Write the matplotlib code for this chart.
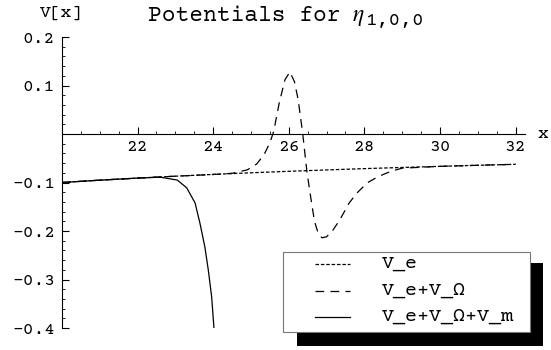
import numpy as np
import matplotlib
matplotlib.use('Agg')
import matplotlib.pyplot as plt
from matplotlib.patches import Rectangle
from matplotlib.lines import Line2D

plt.rcParams['font.family'] = ['Courier Prime', 'Liberation Mono', 'DejaVu Sans']
plt.rcParams['mathtext.fontset'] = 'stix'
plt.rcParams['axes.unicode_minus'] = False

# V_e (dotted)
x_e = [20, 21, 22, 23, 24, 25, 26, 27, 28, 29, 30, 31, 32]
y_e = [-0.1, -0.0952, -0.0909, -0.087, -0.0833, -0.08, -0.0769, -0.0741,
       -0.0714, -0.069, -0.0667, -0.0645, -0.0625]

# V_e + V_Omega (dashed)
x_eo = [20, 21, 22, 23, 24, 24.5, 24.9, 25.15, 25.35, 25.5, 25.6, 25.75, 25.9,
        26.03, 26.15, 26.25, 26.37, 26.48, 26.58, 26.68, 26.78, 26.88, 27.0,
        27.17, 27.35, 27.6, 27.8, 28.07, 28.36, 28.7, 29, 30, 31, 32]
y_eo = [-0.1, -0.0952, -0.0909, -0.087, -0.0835, -0.081, -0.074, -0.062,
        -0.042, -0.018, 0.005, 0.065, 0.112, 0.128, 0.108, 0.07, 0.0, -0.078,
        -0.13, -0.18, -0.205, -0.214, -0.212, -0.198, -0.177, -0.142, -0.122,
        -0.101, -0.088, -0.077, -0.0705, -0.0667, -0.0645, -0.0625]

# V_e + V_Omega + V_m (solid)
x_eom = [20, 21, 22, 22.6, 23.05, 23.3, 23.52, 23.65, 23.78, 23.87, 23.96, 24.02]
y_eom = [-0.1, -0.0952, -0.0909, -0.089, -0.095, -0.111, -0.142, -0.184,
         -0.233, -0.28, -0.336, -0.4]

labels = ['V_e', 'V_e+V_\u03a9', 'V_e+V_\u03a9+V_m']
xticks = [22, 24, 26, 28, 30, 32]
yticks = [-0.4, -0.3, -0.2, -0.1, 0.1, 0.2]

W, H = 551, 350
fig = plt.figure(figsize=(W / 100, H / 100), dpi=100)


def fx(px):
    return px / W


def fy(py):
    return 1 - py / H


ax = fig.add_axes([fx(62), fy(328), (525 - 62) / W, (328 - 37) / H])
ax.set_xlim(20, 32.25)
ax.set_ylim(-0.4, 0.2)
ax.patch.set_visible(False)

styles = [dict(ls=(0, (2.8, 1.5))), dict(ls=(0, (7, 5))), dict(ls='-')]
ax.plot(x_e, y_e, color='black', lw=0.9, **styles[0])
ax.plot(x_eo, y_eo, color='black', lw=0.9, **styles[1])
ax.plot(x_eom, y_eom, color='black', lw=0.9, **styles[2])

ax.spines['top'].set_visible(False)
ax.spines['right'].set_visible(False)
ax.spines['bottom'].set_position(('data', 0))
for s in ['left', 'bottom']:
    ax.spines[s].set_linewidth(0.8)

ax.set_xticks(xticks)
ax.set_xticklabels([str(t) for t in xticks])
ax.set_xticks(np.arange(20, 32.01, 0.5), minor=True)
ax.set_yticks(yticks)
ax.set_yticklabels(['%.1f' % t for t in yticks])
ax.set_yticks(np.arange(-0.4, 0.2001, 0.02), minor=True)
ax.tick_params(direction='in', labelsize=13, width=0.8, length=5, pad=4)
ax.tick_params(which='minor', direction='in', width=0.6, length=2.5)
ax.tick_params(axis='y', pad=5)

fig.text(fx(61), fy(13), 'V[x]', fontsize=13, ha='center', va='center')
fig.text(fx(543), fy(134), 'x', fontsize=13, ha='center', va='center')
# title: Courier text, italic eta, Courier subscript
fig.text(fx(148), fy(21), 'Potentials for', fontsize=16.5,
         ha='left', va='baseline')
fig.text(fx(352), fy(21), r'$\eta$', fontsize=17, ha='left', va='baseline')
fig.text(fx(366), fy(25), '1,0,0', fontsize=14, ha='left', va='baseline')

# legend box with shadow
fig.add_artist(Rectangle((fx(297), fy(346)), (543 - 297) / W, (346 - 263) / H,
                         transform=fig.transFigure, facecolor='black',
                         edgecolor='none'))
fig.add_artist(Rectangle((fx(283), fy(332)), (530 - 283) / W, (332 - 252) / H,
                         transform=fig.transFigure, facecolor='white',
                         edgecolor='#777777', lw=0.8))
rows = [264, 291, 317]
for lab, st, py in zip(labels, styles, rows):
    fig.add_artist(Line2D([fx(315), fx(350)], [fy(py), fy(py)],
                          transform=fig.transFigure, color='black', lw=0.9, **st))
    fig.text(fx(382), fy(py), lab, fontsize=14.4, ha='left', va='center')

fig.savefig('out.png', dpi=100)
